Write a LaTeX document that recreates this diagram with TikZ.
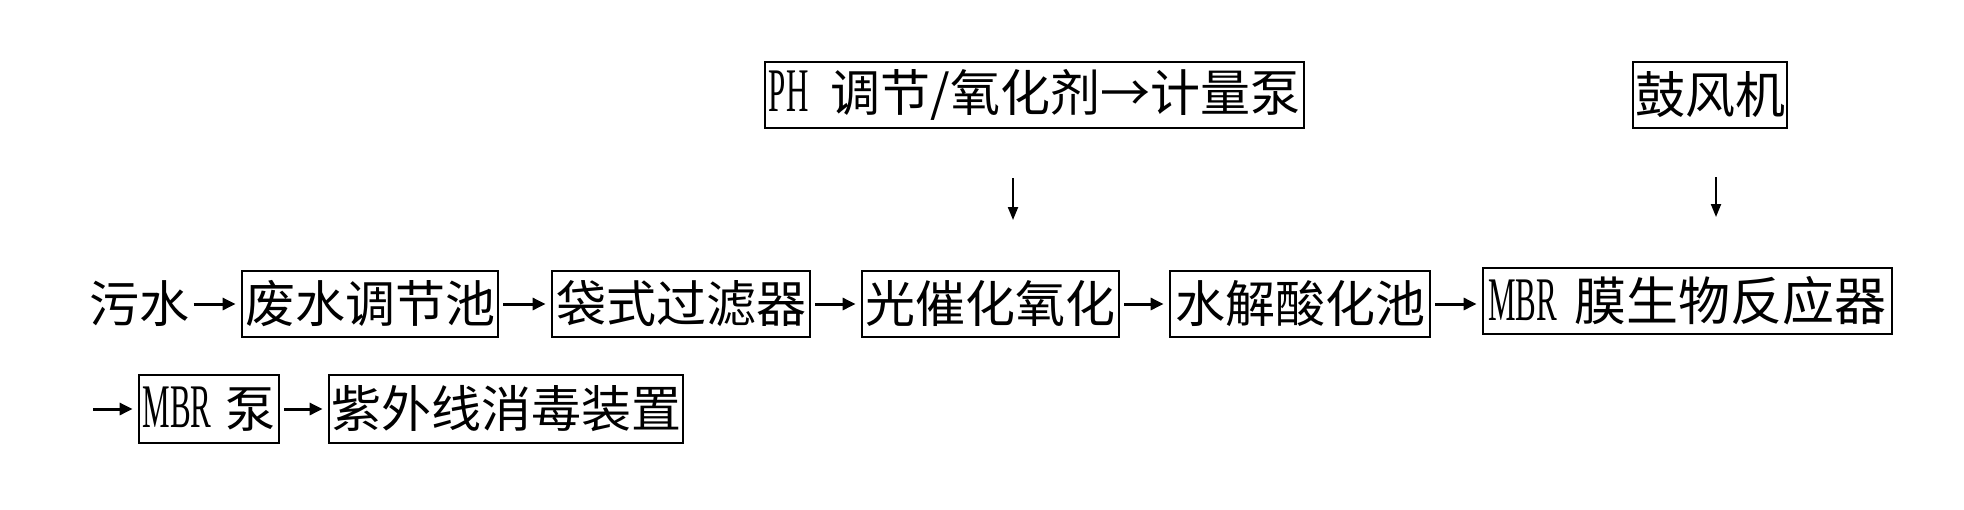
\documentclass[tikz,border=0pt]{standalone}
\usepackage{fontspec}
\usetikzlibrary{arrows.meta}
\newfontfamily\cjkfam{Noto Sans CJK SC}
\newfontfamily\latfam[FakeStretch=0.5]{Liberation Serif}
\newcommand{\cjkt}{\fontsize{50pt}{50pt}\selectfont\cjkfam}
\newcommand{\latc}{\fontsize{62pt}{62pt}\selectfont\latfam}
\begin{document}
\begin{tikzpicture}[x=1pt,y=-1pt,
  box/.style={draw, line width=2.8pt, inner sep=0pt, minimum height=66pt, font=\cjkt},
  plain/.style={inner sep=0pt, font=\cjkt},
  flow/.style={line width=3pt, -{Triangle[length=13pt,width=12pt]}, shorten <=4pt, shorten >=5pt},
  drop/.style={line width=2pt, -{Triangle[length=13pt,width=10pt]}}]
\fill[white] (0,0) rectangle (1964,509);
\useasboundingbox (0,0) rectangle (1964,509);

% top row
\node[box, minimum width=539pt] (t1) at (1034.5,95) {{\latc PH}\hspace{22pt}调节/氧化剂→计量泵};
\node[box, minimum width=154pt] (t2) at (1710,95) {鼓风机};

% main row
\node[plain] (src) at (139.5,304) {污水};
\node[box, minimum width=256pt] (b1) at (370,304) {废水调节池};
\node[box, minimum width=258pt] (b2) at (681,304) {袋式过滤器};
\node[box, minimum width=257pt] (b3) at (990.5,304) {光催化氧化};
\node[box, minimum width=260pt] (b4) at (1300,304) {水解酸化池};
\node[box, minimum width=409pt] (b5) at (1687.5,301) {{\latc MBR}\hspace{18pt}{\fontsize{52pt}{52pt}\selectfont 膜生物反应器}};

% second row
\coordinate (in2) at (93,409);
\node[box, minimum width=140pt, minimum height=68pt] (b6) at (209,409) {{\latc MBR}\hspace{14pt}泵};
\node[box, minimum width=354pt, minimum height=68pt] (b7) at (506,409) {紫外线消毒装置};

% connectors
\draw[flow] (src) -- (b1);
\draw[flow] (b1) -- (b2);
\draw[flow] (b2) -- (b3);
\draw[flow] (b3) -- (b4);
\draw[flow] (b4.east) -- (b4.east -| b5.west);
\draw[flow, shorten <=0pt] (in2) -- (b6);
\draw[flow] (b6) -- (b7);

% dosing / air arrows
\coordinate (d1s) at (1013,178);
\coordinate (d1e) at (1013,220);
\coordinate (d2s) at (1716,177);
\coordinate (d2e) at (1716,217);
\draw[drop] (d1s) -- (d1e);
\draw[drop] (d2s) -- (d2e);
\end{tikzpicture}
\end{document}
